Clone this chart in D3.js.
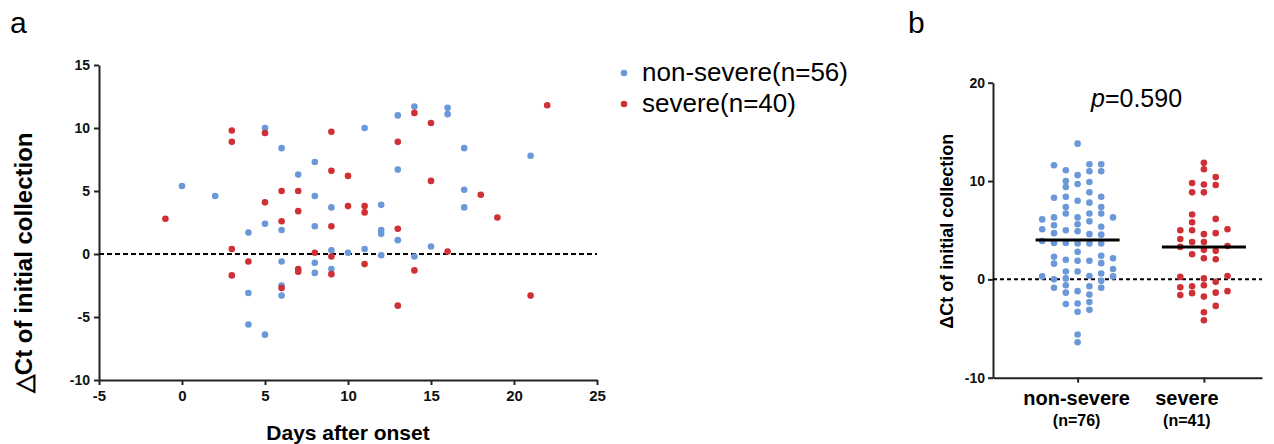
<!DOCTYPE html>
<html>
<head>
<meta charset="utf-8">
<script src="https://cdn.jsdelivr.net/npm/d3@7"></script>
<style>
  body { margin: 0; background: #fff; }
  svg { font-family: "Liberation Sans", Arial, sans-serif; }
  .axis path, .axis line { stroke: #222; stroke-width: 2; }
  .axis text { font-weight: bold; fill: #111; }
</style>
</head>
<body>
<script>
// panel a: delta Ct by days after onset
const nonSevereDays = [0, 2, 4, 4, 4, 5, 5, 5, 6, 6, 6, 6, 6, 7, 8, 8, 8, 8, 8, 9, 9, 9, 10, 11, 11, 12, 12, 12, 12, 13, 13, 13, 14, 14, 15, 16, 16, 17, 17, 17, 21];
const nonSevereCt = [5.4, 4.6, 1.7, -3.1, -5.6, 10.0, 2.4, -6.4, 8.4, 1.9, -0.6, -2.5, -3.3, 6.3, 7.3, 4.6, 2.2, -0.7, -1.5, 3.7, 0.3, -1.2, 0.1, 10.0, 0.4, 3.9, 1.9, 1.6, -0.1, 11.0, 6.7, 1.1, 11.7, -0.2, 0.6, 11.6, 11.1, 8.4, 5.1, 3.7, 7.8];
const severeDays = [-1, 3, 3, 3, 3, 4, 5, 5, 6, 6, 6, 7, 7, 7, 7, 8, 9, 9, 9, 9, 9, 10, 10, 11, 11, 11, 13, 13, 13, 14, 14, 15, 15, 16, 18, 19, 21, 22];
const severeCt = [2.8, 9.8, 8.9, 0.4, -1.7, -0.6, 9.6, 4.1, 5.0, 2.6, -2.7, 5.0, 3.4, -1.2, -1.4, 0.1, 9.7, 6.6, 2.2, -0.2, -1.6, 6.2, 3.8, 3.8, 3.3, -0.8, 8.9, 2.0, -4.1, 11.2, -1.3, 10.4, 5.8, 0.2, 4.7, 2.9, -3.3, 11.8];
const legendLabels = ['non-severe(n=56)', 'severe(n=40)'];
const xTicksA = [-5, 0, 5, 10, 15, 20, 25];
const yTicksA = [-10, -5, 0, 5, 10, 15];

// panel b: values grouped by swarm column (left to right)
const groups = ['non-severe', 'severe'];
const groupCounts = ['(n=76)', '(n=41)'];
const nonSevereColumns = [
  [6.1, 5.1, 3.9, 0.3],
  [11.6, 8.3, 6.3, 5.5, 4.7, 3.7, 2.3, 1.6, 0.0, -0.85],
  [11.1, 10.0, 9.4, 8.4, 7.35, 6.7, 5.0, 3.7, 2.0, 0.8, 0.1, -0.6, -1.35, -2.5],
  [13.8, 10.6, 9.7, 8.0, 6.3, 5.6, 4.9, 3.65, 2.8, 1.9, 0.8, -1.2, -2.45, -3.3, -5.6, -6.4],
  [11.7, 11.0, 9.9, 8.85, 7.8, 6.7, 5.9, 4.6, 3.65, 1.9, 0.35, -0.7, -1.55, -2.3, -3.1],
  [11.7, 11.0, 8.4, 7.35, 6.7, 5.35, 4.55, 3.65, 2.4, 1.65, 0.6, -0.15, -0.85],
  [6.3, 2.15, 1.05, 0.3]
];
const severeColumns = [
  [5.0, 4.1, 3.3, 0.25, -0.8, -1.6],
  [9.8, 8.85, 6.6, 5.8, 5.0, 3.8, 2.55, -0.7, -1.4],
  [11.85, 11.2, 9.65, 8.85, 4.6, 3.8, 3.0, 2.15, 0.1, -0.6, -1.75, -3.35, -4.15],
  [10.4, 9.6, 6.15, 4.7, 2.9, 2.05, -0.25, -1.35, -2.7],
  [5.1, 3.4, 0.35, -1.2]
];
const groupMeans = [4.0, 3.3];
const pText = '0.590';
const yTicksB = [-10, 0, 10, 20];

const blue = '#6a98d8';
const red = '#cf3036';
const plain = d => String(d);

const svg = d3.select('body').append('svg')
  .attr('width', 1274)
  .attr('height', 444);

// ---------- panel a ----------
const xA = d3.scaleLinear().domain([-5, 25]).range([99, 597]);
const yA = d3.scaleLinear().domain([-10, 15]).range([380, 65]);

svg.append('text').attr('x', 10).attr('y', 33)
  .style('font-size', '30px').text('a');

svg.append('g')
  .attr('class', 'axis')
  .attr('transform', 'translate(0,380)')
  .call(d3.axisBottom(xA).tickValues(xTicksA).tickFormat(plain).tickSize(5).tickPadding(5).tickSizeOuter(0))
  .selectAll('text').style('font-size', '15px');

svg.append('g')
  .attr('class', 'axis')
  .attr('transform', 'translate(99,0)')
  .call(d3.axisLeft(yA).tickValues(yTicksA).tickFormat(plain).tickSize(5).tickPadding(4).tickSizeOuter(0))
  .selectAll('text').style('font-size', '14px');

svg.append('line')
  .attr('x1', xA(-5)).attr('x2', xA(25))
  .attr('y1', yA(0)).attr('y2', yA(0))
  .attr('stroke', '#000').attr('stroke-width', 2.2)
  .attr('stroke-dasharray', '5,3');

const ptsA = nonSevereDays.map((d, i) => ({ day: d, ct: nonSevereCt[i], c: blue }))
  .concat(severeDays.map((d, i) => ({ day: d, ct: severeCt[i], c: red })));

svg.append('g').selectAll('circle')
  .data(ptsA)
  .enter()
  .append('circle')
  .attr('cx', d => xA(d.day))
  .attr('cy', d => yA(d.ct))
  .attr('r', 3.3)
  .attr('fill', d => d.c);

svg.append('text')
  .attr('x', xA(10)).attr('y', 440)
  .attr('text-anchor', 'middle')
  .style('font-size', '21px').style('font-weight', 'bold')
  .text('Days after onset');

svg.append('text')
  .attr('transform', `translate(32,${yA(-0.7)}) rotate(-90)`)
  .attr('text-anchor', 'middle')
  .style('font-size', '24px').style('font-weight', 'bold')
  .text('△Ct of initial collection');

// legend
const legend = svg.append('g').selectAll('g')
  .data(legendLabels)
  .enter()
  .append('g')
  .attr('transform', (d, i) => `translate(624,${73 + i * 31})`);
legend.append('circle').attr('r', 3.3).attr('fill', (d, i) => i ? red : blue);
legend.append('text')
  .attr('x', 18).attr('y', 8)
  .style('font-size', '26px')
  .text(d => d);

// ---------- panel b ----------
const xB = d3.scaleLinear().domain([-0.67, 1.46]).range([993, 1262]);
const yB = d3.scaleLinear().domain([-10, 20]).range([377.7, 82.7]);
const slot = d3.scaleLinear().domain([0, 1]).range([0, 11.8]);

svg.append('text').attr('x', 908).attr('y', 33)
  .style('font-size', '30px').text('b');

svg.append('g')
  .attr('class', 'axis')
  .attr('transform', 'translate(993,0)')
  .call(d3.axisLeft(yB).tickValues(yTicksB).tickFormat(plain).tickSize(5).tickPadding(3).tickSizeOuter(0))
  .selectAll('text').style('font-size', '14px');

svg.append('g')
  .attr('class', 'axis')
  .attr('transform', 'translate(0,377.7)')
  .call(d3.axisBottom(xB).tickValues([0, 1]).tickFormat('').tickSize(5).tickSizeOuter(0));

svg.append('line')
  .attr('x1', xB.range()[0]).attr('x2', xB.range()[1])
  .attr('y1', yB(0)).attr('y2', yB(0))
  .attr('stroke', '#000').attr('stroke-width', 2)
  .attr('stroke-dasharray', '4,3');

const ptsB = [];
[nonSevereColumns, severeColumns].forEach((cols, g) => {
  const mid = (cols.length - 1) / 2;
  cols.forEach((vals, k) => vals.forEach(v => ptsB.push({ g: g, k: k - mid, v: v })));
});

svg.append('g').selectAll('circle')
  .data(ptsB)
  .enter()
  .append('circle')
  .attr('cx', d => xB(d.g) + slot(d.k))
  .attr('cy', d => yB(d.v))
  .attr('r', 3.3)
  .attr('fill', d => d.g ? red : blue);

svg.append('g').selectAll('line')
  .data(groupMeans)
  .enter()
  .append('line')
  .attr('x1', (d, i) => xB(i) - 42)
  .attr('x2', (d, i) => xB(i) + 42)
  .attr('y1', d => yB(d))
  .attr('y2', d => yB(d))
  .attr('stroke', '#000').attr('stroke-width', 3);

const catLabels = svg.append('g').selectAll('g')
  .data(groups)
  .enter()
  .append('g')
  .attr('transform', (d, i) => `translate(${xB(i) - (i ? 17 : 1)},0)`)
  .attr('text-anchor', 'middle')
  .style('font-weight', 'bold');
catLabels.append('text').attr('y', 405).style('font-size', '20px').text(d => d);
catLabels.append('text').attr('y', 426).style('font-size', '16px').text((d, i) => groupCounts[i]);

svg.append('text')
  .attr('transform', `translate(953,${yB(4.9)}) rotate(-90)`)
  .attr('text-anchor', 'middle')
  .style('font-size', '18px').style('font-weight', 'bold')
  .text('ΔCt of initial collection');

const pLabel = svg.append('text')
  .attr('x', 1091).attr('y', 107)
  .style('font-size', '25px');
pLabel.append('tspan').style('font-style', 'italic').text('p');
pLabel.append('tspan').text('=' + pText);
</script>
</body>
</html>
